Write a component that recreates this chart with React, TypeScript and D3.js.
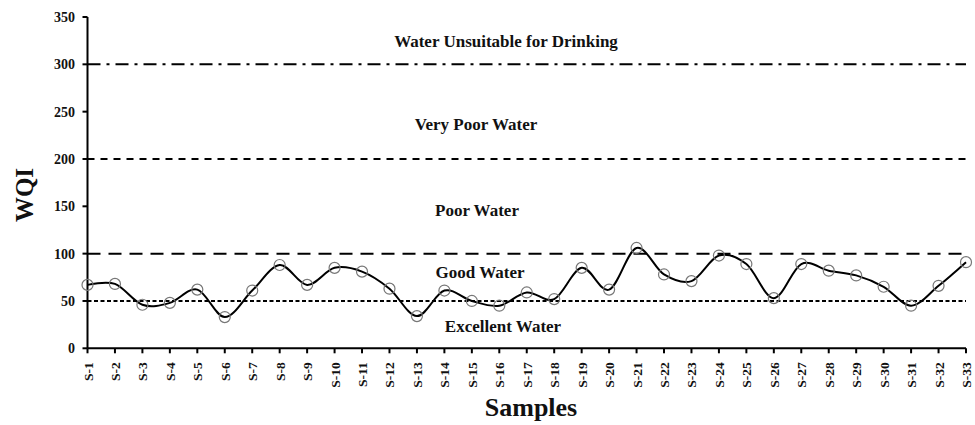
import React from "react";
import * as d3 from "d3";

const samples = Array.from({ length: 33 }, (_, i) => `S-${i + 1}`);
const wqi = [67, 68, 46, 48, 62, 33, 61, 88, 67, 85, 81, 63, 34, 61, 50, 45, 59, 52, 85, 62, 106, 78, 71, 98, 89, 53, 89, 82, 77, 65, 45, 66, 91];
const yTicks = [0, 50, 100, 150, 200, 250, 300, 350];
const thresholds = [300, 200, 100, 50];
const thresholdDash = ["13,6,3,6", "7,6", "13,8", "4,2.5"];
const zoneLabels = ["Water Unsuitable for Drinking", "Very Poor Water", "Poor Water", "Good Water", "Excellent Water"];
const zoneLabelY = [318.5, 230.5, 139.7, 74.5, 17.5];
const zoneLabelX = [506, 476, 477, 480, 503];

const W = 975;
const H = 425;
const FONT = "'Liberation Serif', 'Times New Roman', 'DejaVu Serif', serif";

export default function App() {
  const x = d3.scalePoint<string>().domain(samples).range([87.5, 966]);
  const y = d3.scaleLinear().domain([0, 350]).range([348.3, 17]);
  const line = d3
    .line<number>()
    .x((_, i) => x(samples[i])!)
    .y((d) => y(d))
    .curve(d3.curveCardinal.tension(0));
  const x0 = x(samples[0])!;
  const x1 = x(samples[samples.length - 1])!;
  return (
    <svg width={W} height={H} style={{ position: "absolute", left: 0, top: 0, background: "#fff", fontFamily: FONT, fontWeight: 700 }}>
      <rect width={W} height={H} fill="#fff" />
      {thresholds.map((t, i) => (
        <line key={t} x1={x0} x2={x1} y1={y(t)} y2={y(t)} stroke="#000" strokeWidth={2} strokeDasharray={thresholdDash[i]} />
      ))}
      {zoneLabels.map((l, i) => (
        <text key={l} x={zoneLabelX[i]} y={y(zoneLabelY[i])} textAnchor="middle" fontSize={17} fill="#111">
          {l}
        </text>
      ))}
      <line x1={x0} x2={x0} y1={y(350)} y2={y(0)} stroke="#000" strokeWidth={2} />
      <line x1={x0} x2={x1} y1={y(0)} y2={y(0)} stroke="#000" strokeWidth={2} />
      {yTicks.map((t) => (
        <g key={t}>
          <line x1={x0 - 5} x2={x0} y1={y(t)} y2={y(t)} stroke="#000" strokeWidth={2} />
          <text x={75} y={y(t)} dy="0.35em" textAnchor="end" fontSize={14} fill="#111">
            {t}
          </text>
        </g>
      ))}
      {samples.map((s) => (
        <g key={s}>
          <line x1={x(s)} x2={x(s)} y1={y(0)} y2={y(0) + 5} stroke="#000" strokeWidth={2} />
          <text transform={`translate(${x(s)! + 5},${y(0) + 14}) rotate(-90)`} textAnchor="end" fontSize={13.5} fill="#111">
            {s}
          </text>
        </g>
      ))}
      <text transform={`translate(33,195) rotate(-90)`} textAnchor="middle" fontSize={25} fill="#111">
        WQI
      </text>
      <text x={531} y={416} textAnchor="middle" fontSize={26} fill="#111">
        Samples
      </text>
      <path d={line(wqi)!} fill="none" stroke="#000" strokeWidth={2} />
      {wqi.map((v, i) => (
        <circle key={i} cx={x(samples[i])} cy={y(v)} r={5.5} fill="none" stroke="#777" strokeWidth={1.2} />
      ))}
    </svg>
  );
}
